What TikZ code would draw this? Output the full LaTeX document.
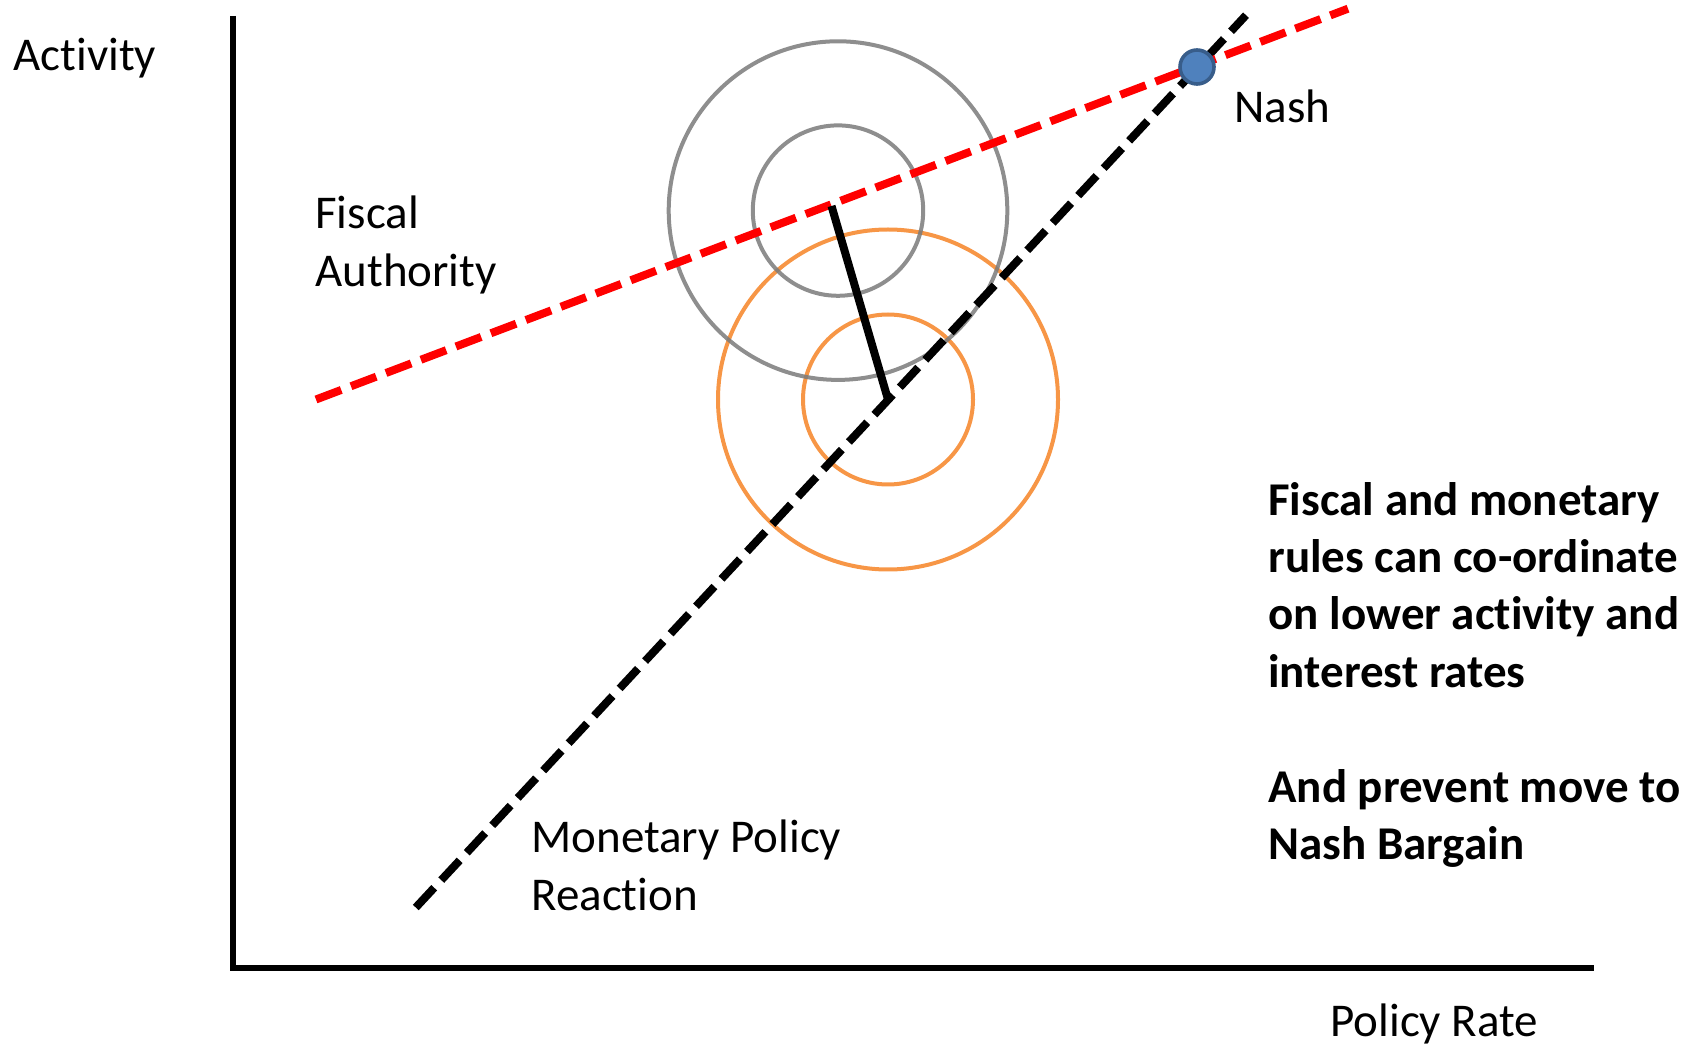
\documentclass[tikz,border=0pt]{standalone}
\usepackage{fontspec}
\setmainfont{Carlito}[Ligatures=NoCommon]
\begin{document}
\begin{tikzpicture}[x=0.5pt,y=-0.5pt,
  lbl/.style={font=\fontsize{23.5}{28.75}\selectfont, inner sep=0pt, align=left, anchor=base west},
  note/.style={lbl, font=\fontsize{23.5}{28.65}\selectfont\bfseries},
  axisline/.style={line width=3.3pt, line join=miter},
  ruleline/.style={line width=4pt, dash pattern=on 13.5pt off 5.2pt},
  ring/.style={line width=2pt},
  bargain/.style={line width=4pt},
  nashdot/.style={circle, fill=nashfill, draw=nashedge, line width=1.8pt, minimum size=17pt, inner sep=0pt}]
\definecolor{fiscalred}{HTML}{FF0000}
\definecolor{ringgray}{HTML}{7A7A7A}
\definecolor{ringorange}{HTML}{F79646}
\definecolor{nashfill}{HTML}{4F81BD}
\definecolor{nashedge}{HTML}{385D8A}
\useasboundingbox (0,0) rectangle (1702,1047);

% axes
\coordinate (ytop) at (233,16);
\coordinate (origin) at (233,968);
\coordinate (xend) at (1594,968);
\draw[axisline] (ytop) -- (origin) -- (xend);

% reaction functions
\coordinate (fa0) at (316,399.5);
\coordinate (fa1) at (1348,8.7);
\coordinate (mp0) at (415.8,907.5);
\coordinate (mp1) at (1246,15.2);

% indifference contours
\coordinate (fbliss) at (838,210.6);
\coordinate (mbliss) at (888,399.5);
\draw[ring, ringorange] (mbliss) circle[radius=170];
\draw[ring, ringorange] (mbliss) circle[radius=85];
\draw[ring, ringgray, opacity=0.85] (fbliss) circle[radius=169.3];
\draw[ring, ringgray, opacity=0.85] (fbliss) circle[radius=85.2];

\draw[ruleline, black] (mp0) -- (mp1);
\draw[ruleline, fiscalred] (fa0) -- (fa1);

% co-ordinated outcome
\coordinate (fstar) at (831.5,206);
\coordinate (mstar) at (888,399.5);
\draw[bargain] (fstar) -- (mstar);

\node[nashdot] (nash) at (1197,67) {};

% labels
\node[lbl] (activity) at (13,71) {Activity};
\node[lbl] (rate) at (1330,1036) {Policy Rate};
\node[lbl] (fiscal) at (315,286.5) {Fiscal\\Authority};
\node[lbl] (nashlbl) at (1234,122.7) {Nash};
\node[lbl] (monetary) at (531,910) {Monetary Policy\\Reaction};
\node[note] (coord) at (1268,687) {Fiscal and monetary\\rules can co-ordinate\\on lower activity and\\interest rates};
\node[note] (prevent) at (1268,859.7) {And prevent move to\\Nash Bargain};
\end{tikzpicture}
\end{document}
